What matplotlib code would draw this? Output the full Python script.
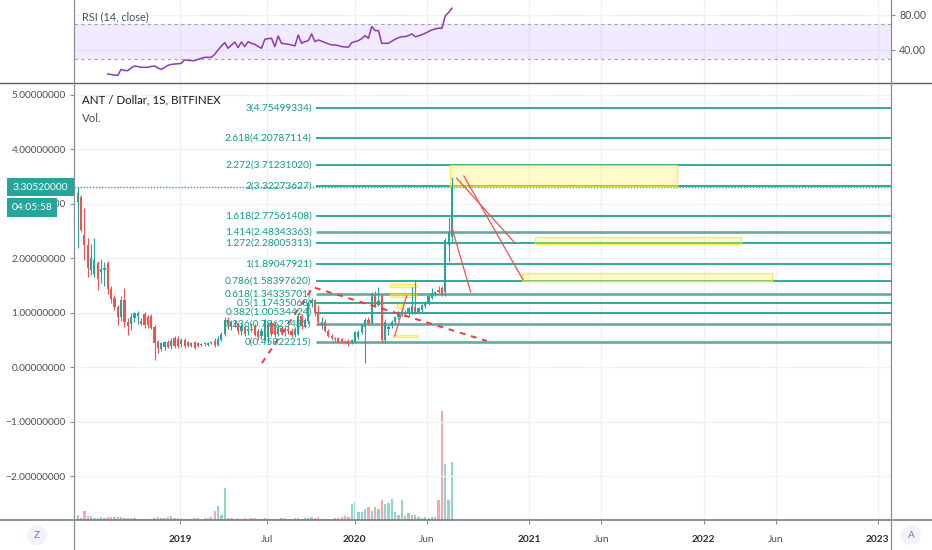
import matplotlib
matplotlib.use('Agg')
import matplotlib.pyplot as plt
import matplotlib.dates as mdates
from matplotlib.patches import Rectangle, Circle
from matplotlib.lines import Line2D
from matplotlib.transforms import IdentityTransform
import numpy as np
import pandas as pd

plt.rcParams['font.family'] = ['Lato', 'DejaVu Sans']

# ------------------------------------------------------------------ data
last_bar = '2020-07-23'

opens = [3.03, 3.12, 2.43, 2.25, 1.79, 1.72, 1.92, 1.75, 1.78, 1.92,
         1.44, 1.27, 1.10, 0.92, 1.24, 0.84, 0.80, 0.90, 0.95, 0.85,
         0.98, 0.92, 0.95, 0.74, 0.47, 0.33, 0.38, 0.46, 0.39, 0.54,
         0.52, 0.42, 0.50, 0.46, 0.40, 0.46, 0.44,
         0.41, 0.42, 0.41, 0.46, 0.48, 0.41, 0.51, 0.62, 0.86, 0.75, 0.80, 0.82,
         0.66, 0.74, 0.66, 0.71, 0.75, 0.66, 0.58, 0.50, 0.55, 0.82,
         0.80, 0.62, 0.72, 0.64, 0.70, 0.66, 0.60, 0.62, 0.95, 0.76,
         0.85, 1.18, 1.23, 1.00, 0.76, 0.84, 0.66, 0.57, 0.52, 0.54,
         0.52, 0.47, 0.49, 0.44, 0.46, 0.56, 0.65, 0.74, 0.86, 0.82,
         1.33, 1.15, 1.30, 0.50, 0.70, 0.76, 0.84, 0.92, 0.98, 1.02,
         0.98, 1.00, 1.10, 1.02, 1.06, 1.12, 1.18, 1.28, 1.34, 1.42,
         1.45, 1.38, 2.24, 2.40]
highs = [3.31, 3.16, 2.92, 2.37, 2.26, 2.37, 1.95, 1.98, 1.94, 1.95,
         1.50, 1.32, 1.14, 1.30, 1.45, 0.90, 1.00, 1.02, 1.03, 0.90,
         1.01, 0.96, 0.98, 0.78, 0.50, 0.47, 0.49, 0.50, 0.53, 0.57,
         0.58, 0.54, 0.53, 0.48, 0.47, 0.49, 0.47,
         0.44, 0.46, 0.47, 0.49, 0.53, 0.58, 0.65, 0.92, 0.92, 0.87, 0.86, 0.84,
         0.80, 0.78, 0.76, 0.82, 0.80, 0.70, 0.72, 0.88, 0.84, 0.86,
         0.84, 0.80, 0.76, 0.74, 0.78, 0.72, 0.74, 1.00, 0.98, 0.90,
         1.22, 1.28, 1.25, 1.14, 0.92, 0.88, 0.70, 0.62, 0.56, 0.56,
         0.54, 0.50, 0.52, 0.52, 0.67, 0.68, 0.80, 0.90, 0.92, 1.38,
         1.40, 1.48, 1.34, 0.88, 0.78, 0.86, 0.94, 1.04, 1.06, 1.05,
         1.10, 1.48, 1.60, 1.10, 1.16, 1.22, 1.32, 1.46, 1.40, 1.50,
         1.50, 2.37, 2.75, 3.50]
lows = [2.19, 2.48, 1.97, 1.66, 1.70, 1.65, 1.42, 1.55, 1.50, 1.35,
        1.18, 1.05, 0.78, 0.85, 0.74, 0.59, 0.68, 0.84, 0.80, 0.78,
        0.72, 0.72, 0.70, 0.13, 0.26, 0.29, 0.31, 0.35, 0.33, 0.36,
        0.36, 0.38, 0.36, 0.37, 0.37, 0.33, 0.38,
        0.39, 0.40, 0.40, 0.42, 0.38, 0.40, 0.48, 0.58, 0.70, 0.68, 0.74, 0.62,
        0.60, 0.58, 0.60, 0.64, 0.58, 0.50, 0.52, 0.48, 0.45, 0.58,
        0.55, 0.58, 0.60, 0.58, 0.62, 0.55, 0.56, 0.60, 0.70, 0.72,
        0.80, 1.10, 0.95, 0.78, 0.70, 0.64, 0.55, 0.50, 0.48, 0.45,
        0.44, 0.42, 0.40, 0.42, 0.44, 0.52, 0.62, 0.07, 0.78, 0.80,
        1.10, 1.12, 0.44, 0.44, 0.60, 0.72, 0.80, 0.88, 0.95, 0.94,
        0.95, 0.98, 0.98, 0.98, 1.02, 1.08, 1.15, 1.25, 1.30, 1.36,
        1.30, 1.30, 1.93, 2.30]
closes = [3.20, 2.52, 2.25, 1.82, 2.00, 1.97, 1.62, 1.80, 1.82, 1.44,
          1.26, 1.10, 0.93, 1.23, 0.83, 0.76, 0.93, 0.99, 1.00, 0.79,
          0.77, 0.78, 0.73, 0.45, 0.36, 0.44, 0.46, 0.38, 0.49, 0.40,
          0.40, 0.51, 0.40, 0.40, 0.44, 0.36, 0.40,
          0.42, 0.44, 0.45, 0.44, 0.41, 0.52, 0.62, 0.86, 0.78, 0.84, 0.81, 0.66,
          0.76, 0.62, 0.70, 0.69, 0.60, 0.56, 0.66, 0.86, 0.80, 0.62,
          0.60, 0.74, 0.64, 0.70, 0.66, 0.60, 0.70, 0.95, 0.75, 0.85,
          1.18, 1.23, 1.00, 0.84, 0.84, 0.67, 0.57, 0.53, 0.54, 0.47,
          0.46, 0.44, 0.43, 0.50, 0.64, 0.65, 0.77, 0.86, 0.82, 1.34,
          1.14, 1.22, 0.50, 0.83, 0.74, 0.84, 0.92, 1.02, 1.02, 0.97,
          1.08, 1.13, 1.02, 1.08, 1.14, 1.20, 1.30, 1.36, 1.38, 1.38,
          1.35, 2.34, 2.49, 3.3052]
volumes_k = [50, 20, 90, 40, 40, 20, 20, 30, 20, 30,
             30, 30, 30, 30, 20, 20, 20, 20, 10, 10,
             10, 10, 10, 20, 30, 20, 20, 30, 40, 20,
             20, 20, 10, 10, 10, 20, 20,
             10, 20, 20, 30, 90, 140, 50, 320, 20, 20, 10, 20,
             10, 20, 10, 20, 20, 10, 10, 20, 20, 10,
             10, 10, 20, 20, 10, 10, 20, 20, 10, 20,
             20, 30, 20, 30, 10, 10, 10, 10, 20, 20,
             30, 40, 30, 160, 180, 80, 80, 110, 130, 90,
             130, 110, 200, 160, 170, 210, 80, 50, 200, 40,
             70, 50, 50, 30, 20, 30, 20, 30, 30, 200,
             1090, 560, 200, 580]
rsi_values = [None] * 9 + [
    12.6, 12.0, 11.3, 11.1, 17.9, 16.6, 16.4, 19.5, 21.7, 21.0,
    20.2, 20.2, 20.2, 21.2, 21.7, 19.5, 17.9, 20.0, 22.5, 23.5,
    24.0, 24.2, 24.8, 28.6, 28.2, 27.8, 27.8,
    29.3, 30.5, 31.6, 31.6, 31.6, 35.0, 40.0, 44.5, 48.4, 41.9, 45.5, 49.1, 42.7,
    49.1, 43.8, 49.5, 47.5, 46.5, 44.0, 41.9, 52.2, 53.0, 53.3,
    43.8, 56.0, 47.6, 47.0, 46.5, 45.7, 44.6, 57.1, 47.6, 49.5,
    50.6, 58.3, 49.5, 51.4, 50.0, 48.4, 47.0, 45.7, 45.7, 45.0,
    43.8, 43.5, 43.1, 48.4, 49.5, 50.6, 53.0, 56.3, 53.3, 66.7,
    62.1, 62.1, 47.6, 47.6, 47.6, 50.0, 52.2, 54.0, 55.2, 55.2,
    56.5, 58.3, 55.2, 56.0, 57.5, 59.0, 61.0, 62.9, 64.0, 64.8,
    64.8, 78.9, 82.7, 87.6]

fib_ratio_labels = ['0', '0.236', '0.382', '0.5', '0.618', '0.786', '1',
                    '1.272', '1.414', '1.618', '2', '2.272', '2.618', '3']
fib_prices = [0.45822215, 0.79623481, 1.00534424, 1.17435068, 1.34335701,
              1.58397620, 1.89047921, 2.28005313, 2.48343363, 2.77561408,
              3.32273627, 3.71231020, 4.20787114, 4.75499334]
fib_muted = ['0', '0.236', '0.618', '1.414']
fib_start = '2019-10-12'

last_price = 3.3052
countdown = '04:05:58'

price_ticks = [5, 4, 3, 2, 1, 0, -1, -2]
date_ticks = ['2019-01-01', '2019-07-01', '2020-01-01', '2020-06-01', '2021-01-01',
              '2021-06-01', '2022-01-01', '2022-06-01', '2023-01-01']
date_labels = ['2019', 'Jul', '2020', 'Jun', '2021', 'Jun', '2022', 'Jun', '2023']
year_labels = ['2019', '2020', '2021', '2022', '2023']
rsi_ticks = [80, 40]
x_range = ['2018-05-23 07:00', '2023-01-28 17:00']
price_range = [-2.802, 5.217]
rsi_range = [2.3, 97.0]

# yellow zones: start, end, low, high
zone_starts = ['2020-07-19', '2021-01-13', '2020-12-17', '2020-03-15', '2020-03-15', '2020-03-29', '2020-03-21']
zone_ends = ['2021-11-07', '2022-03-20', '2022-05-24', '2020-05-09', '2020-05-09', '2020-04-11', '2020-05-11']
zone_lows = [3.32273627, 2.262, 1.589, 1.468, 1.284, 1.088, 0.550]
zone_highs = [3.71231020, 2.396, 1.736, 1.523, 1.345, 1.161, 0.593]

# red trend lines: start date, start price, end date, end price
dashed_dates = ['2019-06-21', '2019-10-06', '2020-10-04']
dashed_prices = [0.079, 1.47, 0.483]
thin_starts = ['2020-08-02', '2020-08-17', '2020-07-23', '2020-03-25']
thin_start_prices = [3.468, 3.51, 2.556, 0.575]
thin_ends = ['2020-12-02', '2020-12-19', '2020-08-31', '2020-04-19']
thin_end_prices = [2.28, 1.603, 1.387, 1.309]

# ------------------------------------------------------------------ style
UP = '#26a69a'
DOWN = '#ef5350'
FIB = '#12998b'
FIB_MUTED = '#62aaa3'
GRID = '#eef1f5'
AXC = '#8a8d96'
TXT = '#4c4f59'

W, H = 932, 550
fig = plt.figure(figsize=(W / 100, H / 100), dpi=100, facecolor='white')

L = 74 / W
R = 891 / W
ax_rsi = fig.add_axes([L, 1 - 83 / H, R - L, 83 / H])
ax_v = fig.add_axes([L, 30 / H, R - L, 437 / H], sharex=ax_rsi)
ax = fig.add_axes([L, 30 / H, R - L, 437 / H], sharex=ax_rsi)
ax.patch.set_visible(False)
ax_v.patch.set_visible(False)
ax_v.axis('off')

def dn(s):
    return mdates.date2num(pd.Timestamp(s))

dates = pd.date_range(end=last_bar, periods=len(closes), freq='7D')
xd = mdates.date2num(dates)
o = np.array(opens); h = np.array(highs); l = np.array(lows); c = np.array(closes)
up = c >= o
cols = np.where(up, UP, DOWN)

x0, x1 = dn(x_range[0]), dn(x_range[1])

# --------------------------------------------------- main pane
ax.set_xlim(x0, x1)
ax.set_ylim(*price_range)

for t in date_ticks:
    ax.axvline(dn(t), color=GRID, lw=1, zorder=0)
    ax_rsi.axvline(dn(t), color=GRID, lw=1, zorder=0)
for p in price_ticks:
    ax.axhline(p, color=GRID, lw=1, zorder=0)

# volume
vol = np.array(volumes_k, dtype=float)
vcols = np.where(up, '#92d3cc', '#f6a8a6')
ax_v.bar(xd, vol, width=4.8, color=vcols, linewidth=0)
ax_v.set_ylim(0, vol.max() * 437 / 109)
ax_v.set_xlim(x0, x1)

# fib levels
fs = dn(fib_start)
for lab, pr in zip(fib_ratio_labels, fib_prices):
    muted = lab in fib_muted
    ax.hlines(pr, fs, x1, colors=FIB_MUTED if muted else FIB,
              lw=1.9 if muted else 1.2, zorder=2)
    ax.annotate(f'{lab}({pr:.8f})', xy=(fs, pr), xytext=(-3, 0),
                textcoords='offset points', ha='right', va='center',
                fontsize=7.3, color=FIB, zorder=6)

# last price dotted line
ax.axhline(last_price, color=UP, lw=1.0, ls=(0, (1, 1.2)), zorder=2)

# zones
for s, e, lo, hi in zip(zone_starts, zone_ends, zone_lows, zone_highs):
    ax.add_patch(Rectangle((dn(s), lo), dn(e) - dn(s), hi - lo,
                           facecolor=(1.0, 0.94, 0.35, 0.32),
                           edgecolor=(1.0, 0.90, 0.15, 0.75), lw=1.0, zorder=3))

# dashed red trend lines
ax.plot([dn(d) for d in dashed_dates], dashed_prices, color='#ef3b3b',
        lw=1.4, ls=(0, (3, 3)), zorder=5)
# thin red lines
for s, sp, e, ep in zip(thin_starts, thin_start_prices, thin_ends, thin_end_prices):
    ax.plot([dn(s), dn(e)], [sp, ep], color='#ef5350', lw=0.9, zorder=5)

# candles
ax.vlines(xd, l, h, colors=cols, lw=0.8, zorder=4)
body = np.maximum(np.abs(c - o), 0.012)
ax.bar(xd, body, bottom=np.minimum(o, c), width=4.6, color=cols, linewidth=0, zorder=4)

# axes formatting
for sp in ['top', 'right', 'bottom', 'left']:
    ax.spines[sp].set_visible(False)
ax.set_yticks(price_ticks)
ax.set_yticklabels([f'{v:.8f}'.replace('-', '\u2212') for v in price_ticks])
ax.tick_params(axis='y', direction='out', length=3, width=0.8, color=AXC,
               labelcolor=TXT, labelsize=7.3, pad=3)
ax.set_xticks([dn(t) for t in date_ticks])
ax.set_xticklabels(date_labels)
ax.tick_params(axis='x', direction='out', length=3, width=0.8, color=AXC,
               labelcolor=TXT, labelsize=7.3, pad=8)
for tl in ax.get_xticklabels():
    if tl.get_text() in year_labels:
        tl.set_fontweight('bold')
        tl.set_color('#2a2e39')

# --------------------------------------------------- RSI pane
ax_rsi.set_xlim(x0, x1)
ax_rsi.set_ylim(*rsi_range)
ax_rsi.axhspan(30, 70, color='#b388ff', alpha=0.17, lw=0, zorder=1)
ax_rsi.axhline(70, color='#a3a3ad', lw=0.8, ls=(0, (3, 3)), zorder=2)
ax_rsi.axhline(30, color='#a3a3ad', lw=0.8, ls=(0, (3, 3)), zorder=2)
for r in rsi_ticks:
    ax_rsi.axhline(r, color=GRID, lw=1, zorder=0)
rsi_arr = np.array([np.nan if v is None else v for v in rsi_values], dtype=float)
ax_rsi.plot(xd, rsi_arr, color='#8e3ab3', lw=1.1, zorder=3)
for sp in ['top', 'right', 'bottom', 'left']:
    ax_rsi.spines[sp].set_visible(False)
ax_rsi.yaxis.tick_right()
ax_rsi.set_yticks(rsi_ticks)
ax_rsi.set_yticklabels([f'{v:.2f}' for v in rsi_ticks])
ax_rsi.tick_params(axis='y', direction='out', length=3, width=0.8, color=AXC,
                   labelcolor=TXT, labelsize=7.6, pad=3)
ax_rsi.tick_params(axis='x', bottom=False, labelbottom=False)

# --------------------------------------------------- frame lines (figure level)
fig.add_artist(Line2D([0, 1], [1 - 83 / H, 1 - 83 / H], color='#5d606b', lw=1.0, transform=fig.transFigure))
fig.add_artist(Line2D([0, 1], [30 / H, 30 / H], color='#6f727c', lw=1.1, transform=fig.transFigure))
fig.add_artist(Line2D([L, L], [0, 1], color=AXC, lw=0.9, transform=fig.transFigure))
fig.add_artist(Line2D([R, R], [0, 1], color=AXC, lw=0.9, transform=fig.transFigure))

# --------------------------------------------------- legends / texts
fig.text(82 / W, 1 - 17 / H, 'RSI (14, close)', fontsize=7.8, color=TXT, va='center')
fig.text(82 / W, 1 - 100 / H, 'ANT / Dollar, 1S, BITFINEX', fontsize=8.3, color='#131722',
         va='center')
fig.text(82 / W, 1 - 118 / H, 'Vol.', fontsize=8.3, color=TXT, va='center')

# price tag + countdown
fig.add_artist(Rectangle((7 / W, 1 - 196 / H), 67 / W, 18 / H, transform=fig.transFigure,
                         facecolor=UP, edgecolor='none', zorder=10))
fig.text(40.5 / W, 1 - 187 / H, f'{last_price:.8f}', fontsize=7.4, color='white',
         ha='center', va='center', zorder=11)
fig.add_artist(Rectangle((7 / W, 1 - 217 / H), 50 / W, 19.5 / H, transform=fig.transFigure,
                         facecolor=UP, edgecolor='none', zorder=10))
fig.text(32 / W, 1 - 207 / H, countdown, fontsize=7.4, color='white',
         ha='center', va='center', zorder=11)

# Z / A buttons
for cx, letter in [(37, 'Z'), (911, 'A')]:
    fig.add_artist(Circle((cx, H - 535), 10, transform=IdentityTransform(),
                          facecolor='#f0f3fa', edgecolor='none', zorder=10))
    fig.text(cx / W, 1 - 535 / H, letter, fontsize=7.3, color='#787b86',
             ha='center', va='center', zorder=11)

fig.savefig('out.png', dpi=100, facecolor='white')
